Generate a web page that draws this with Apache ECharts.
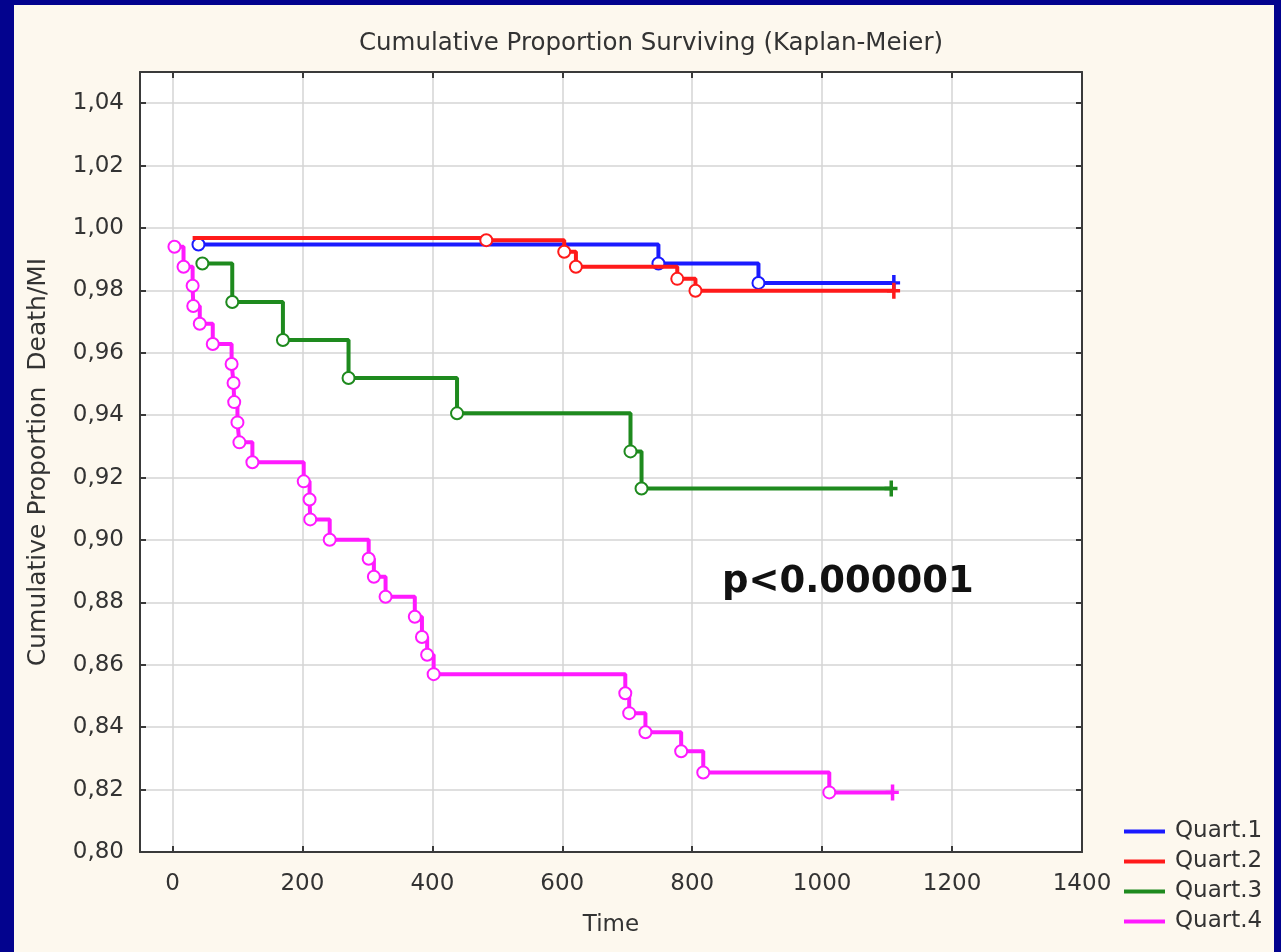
<!DOCTYPE html>
<html>
<head>
<meta charset="utf-8">
<script src="https://cdn.jsdelivr.net/npm/echarts@6/dist/echarts.min.js"></script>
<style>
  html, body { margin: 0; padding: 0; background: #03038e; }
  #wrap { position: relative; width: 1281px; height: 952px; background: #03038e; overflow: hidden; }
  #panel { position: absolute; left: 14px; top: 5px; width: 1260px; height: 960px; background: #fdf8ee; }
  #chart { position: absolute; left: 0; top: 0; width: 1281px; height: 952px; }
</style>
</head>
<body>
<div id="wrap"><div id="panel"></div><div id="chart"></div></div>
<script>
// ---- data ----
const seriesNames = ['Quart.1', 'Quart.2', 'Quart.3', 'Quart.4'];

const q1Time = [40, 748, 902];
const q1Surv = [0.9947, 0.9886, 0.9824];
const q1End = 1110;

const q2Time = [31, 483, 603, 621, 777, 805];
const q2Surv = [0.9968, 0.9961, 0.9924, 0.9876, 0.9837, 0.9799];
const q2End = 1110;

const q3Time = [46, 92, 170, 271, 438, 705, 722];
const q3Surv = [0.9886, 0.9763, 0.9641, 0.9519, 0.9406, 0.9284, 0.9165];
const q3End = 1106;

const q4Time = [3, 17, 31, 32, 42, 62, 91, 94, 95, 100, 103, 123, 202, 211, 212, 242,
                302, 310, 328, 373, 384, 392, 402, 697, 703, 728, 783, 817, 1011];
const q4Surv = [0.9940, 0.9876, 0.9815, 0.9750, 0.9693, 0.9628, 0.9564, 0.9503, 0.9442,
                0.9377, 0.9313, 0.9249, 0.9188, 0.9130, 0.9066, 0.9001, 0.8940, 0.8882,
                0.8818, 0.8754, 0.8689, 0.8632, 0.8570, 0.8509, 0.8445, 0.8384, 0.8323,
                0.8255, 0.8191];
const q4End = 1108;

const xTicks = [0, 200, 400, 600, 800, 1000, 1200, 1400];
const yTicks = [0.80, 0.82, 0.84, 0.86, 0.88, 0.90, 0.92, 0.94, 0.96, 0.98, 1.00, 1.02, 1.04];

const titleText = 'Cumulative Proportion Surviving (Kaplan-Meier)';
const yName = 'Cumulative Proportion  Death/MI';
const xName = 'Time';
const pText = 'p<0.000001';

const colors = ['#1a1aff', '#ff1a1a', '#1e8a1e', '#ff1aff'];
// ---------------------------------------

const FONT = 'DejaVu Sans';
const plusPath = 'path://M5,0h3.5v16h-3.5zM0,6.3h13v3.4h-13z';

function buildData(times, surv, endT, hideFirst) {
  const d = times.map((t, i) => {
    const item = { value: [t, surv[i]] };
    if (hideFirst && i === 0) item.symbol = 'none';
    return item;
  });
  d.push({ value: [endT, surv[surv.length - 1]], symbol: plusPath, symbolSize: [13, 16] });
  return d;
}

const allData = [
  buildData(q1Time, q1Surv, q1End, false),
  buildData(q2Time, q2Surv, q2End, true),
  buildData(q3Time, q3Surv, q3End, false),
  buildData(q4Time, q4Surv, q4End, false)
];

const chart = echarts.init(document.getElementById('chart'), null, { renderer: 'canvas' });

const axisLineStyle = { color: '#3a3a3a', width: 2 };

const option = {
  animation: false,
  backgroundColor: 'transparent',
  title: {
    text: titleText,
    left: 646,
    top: 26,
    textAlign: 'center',
    textStyle: { fontFamily: FONT, fontSize: 24.5, fontWeight: 'normal', color: '#333' }
  },
  legend: {
    orient: 'vertical',
    left: 1119,
    top: 815,
    itemWidth: 41,
    itemHeight: 4,
    itemGap: 7,
    icon: 'rect',
    data: seriesNames,
    textStyle: { fontFamily: FONT, fontSize: 23, color: '#333', padding: [0, 0, 0, 5] }
  },
  grid: {
    left: 140, right: 199, top: 72, bottom: 100,
    show: true, backgroundColor: '#ffffff', borderWidth: 0
  },
  xAxis: [{
    type: 'value', min: -50, max: 1400, position: 'bottom',
    name: xName, nameLocation: 'middle', nameGap: 62,
    nameTextStyle: { fontFamily: FONT, fontSize: 23, color: '#333' },
    axisLine: { show: true, onZero: false, lineStyle: axisLineStyle },
    axisTick: { show: true, inside: true, length: 6, customValues: xTicks, lineStyle: axisLineStyle },
    axisLabel: { customValues: xTicks, margin: 21, fontFamily: FONT, fontSize: 23, color: '#333',
                 formatter: v => String(v) },
    splitLine: { show: true, lineStyle: { color: '#d4d4d4', width: 1.5 } }
  }, {
    type: 'value', min: -50, max: 1400, position: 'top',
    axisLine: { show: true, onZero: false, lineStyle: axisLineStyle },
    axisTick: { show: true, inside: true, length: 6, customValues: xTicks, lineStyle: axisLineStyle },
    axisLabel: { show: false },
    splitLine: { show: false }
  }],
  yAxis: [{
    type: 'value', min: 0.80, max: 1.05, position: 'left',
    name: yName, nameLocation: 'middle', nameGap: 89, nameRotate: 90,
    nameTextStyle: { fontFamily: FONT, fontSize: 25, color: '#333' },
    axisLine: { show: true, onZero: false, lineStyle: axisLineStyle },
    axisTick: { show: true, inside: true, length: 6, customValues: yTicks, lineStyle: axisLineStyle },
    axisLabel: {
      customValues: yTicks, margin: 16, fontFamily: FONT, fontSize: 23, color: '#333',
      formatter: v => v.toFixed(2).replace('.', ',')
    },
    splitLine: { show: true, lineStyle: { color: '#d4d4d4', width: 1.5 } }
  }, {
    type: 'value', min: 0.80, max: 1.05, position: 'right',
    axisLine: { show: true, onZero: false, lineStyle: axisLineStyle },
    axisTick: { show: true, inside: true, length: 6, customValues: yTicks, lineStyle: axisLineStyle },
    axisLabel: { show: false },
    splitLine: { show: false }
  }],
  graphic: [{
    type: 'text',
    left: 722,
    top: 564,
    style: { text: pText, fontFamily: FONT, fontSize: 37, fontWeight: 'bold', fill: '#111' },
    z: 100
  }],
  series: seriesNames.map((name, i) => ({
    name: name,
    type: 'line',
    step: 'end',
    xAxisIndex: 0,
    yAxisIndex: 0,
    data: allData[i],
    symbol: 'emptyCircle',
    symbolSize: 12,
    showAllSymbol: true,
    color: colors[i],
    lineStyle: { width: 4, color: colors[i] },
    itemStyle: { color: colors[i], borderWidth: 2.5 },
    z: 2 + i
  }))
};

chart.setOption(option);
</script>
</body>
</html>
